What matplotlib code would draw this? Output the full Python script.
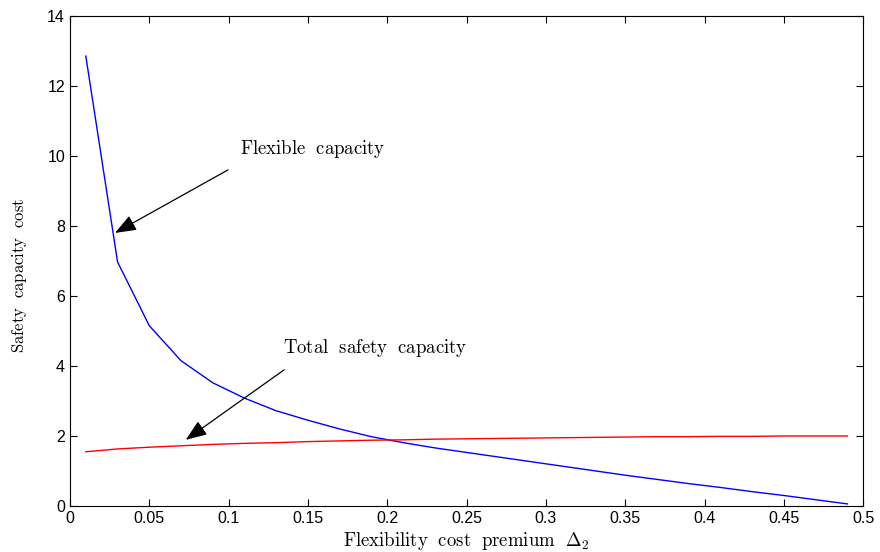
import numpy as np
import matplotlib
matplotlib.use("Agg")
import matplotlib.pyplot as plt

# Data
premium = [0.01, 0.03, 0.05, 0.07, 0.09, 0.11, 0.13, 0.15, 0.17, 0.19,
           0.21, 0.23, 0.25, 0.27, 0.29, 0.31, 0.33, 0.35, 0.37, 0.39,
           0.41, 0.43, 0.45, 0.47, 0.49]
flexible = [12.85, 6.97, 5.15, 4.15, 3.52, 3.08, 2.72, 2.45, 2.20, 1.98,
            1.81, 1.66, 1.53, 1.40, 1.27, 1.14, 1.01, 0.88, 0.76, 0.64,
            0.53, 0.41, 0.30, 0.18, 0.06]
total = [1.55, 1.63, 1.68, 1.72, 1.76, 1.79, 1.81, 1.84, 1.86, 1.88,
         1.89, 1.91, 1.92, 1.93, 1.94, 1.95, 1.96, 1.97, 1.98, 1.98,
         1.99, 1.99, 2.00, 2.00, 2.00]

plt.rcParams['mathtext.fontset'] = 'cm'
plt.rcParams['font.family'] = ['Liberation Sans', 'DejaVu Sans']

fig = plt.figure(figsize=(8.8, 5.52), dpi=100)
ax = fig.add_axes([0.0795, 0.0833, 0.9015, 0.888])

ax.plot(premium, flexible, color='blue', linewidth=1.0)
ax.plot(premium, total, color='red', linewidth=1.0)

ax.set_xlim(0, 0.5)
ax.set_ylim(0, 14)
ax.set_xticks(np.arange(0, 0.51, 0.05))
ax.set_xticklabels(['0', '0.05', '0.1', '0.15', '0.2', '0.25', '0.3',
                    '0.35', '0.4', '0.45', '0.5'])
ax.set_yticks(range(0, 15, 2))
ax.tick_params(direction='in', top=True, right=True, labelsize=11.5, length=5)

ax.set_xlabel(r'$\mathrm{Flexibility\ \ cost\ \ premium}\ \ \Delta_2$', fontsize=13.5, labelpad=3)
ax.set_ylabel(r'$\mathrm{Safety\ \ capacity\ \ cost}$', fontsize=12)
ax.yaxis.set_label_coords(-0.052, 0.47)

# arrows with labels
arrow = dict(arrowstyle='-|>,head_length=0.65,head_width=0.25', color='black',
             lw=0.9, mutation_scale=20, shrinkA=0, shrinkB=0)
ax.annotate('', xy=(0.0284, 7.8), xytext=(0.0996, 9.6), arrowprops=arrow)
ax.text(0.107, 10.2, r'$\mathrm{Flexible\ \ capacity}$', fontsize=13.5, va='center')
ax.annotate('', xy=(0.073, 1.89), xytext=(0.135, 3.89), arrowprops=arrow)
ax.text(0.134, 4.5, r'$\mathrm{Total\ \ safety\ \ capacity}$', fontsize=13.5, va='center')

fig.savefig('out.png', dpi=100)
